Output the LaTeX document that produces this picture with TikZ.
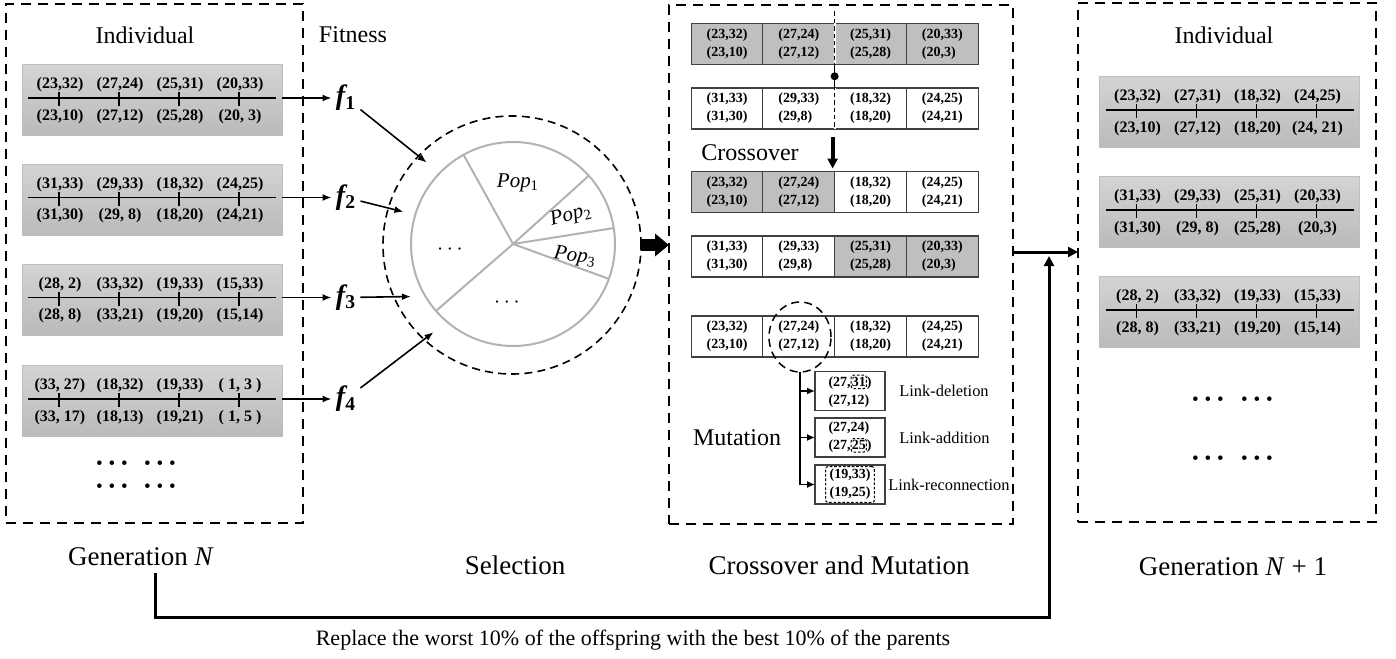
\documentclass[tikz,border=0pt]{standalone}
\usepackage{fontspec}
\setmainfont{Liberation Serif}
\usetikzlibrary{positioning,calc,arrows.meta,shapes.geometric}

\tikzset{
  panel/.style={draw, dash pattern=on 5pt off 3.5pt, line width=0.9pt, outer sep=0pt, inner sep=0pt},
  indbox/.style={draw=black!25, line width=0.4pt, top color=black!17, bottom color=black!27,
    minimum width=130pt, minimum height=35.5pt, outer sep=0pt},
  gene/.style={line width=0.8pt},
  gtxt/.style={font=\bfseries\fontsize{8}{9}\selectfont, inner sep=0pt},
  cell/.style={draw=black!75, line width=0.6pt, minimum width=35.875pt, minimum height=20.5pt,
    outer sep=0pt, inner sep=1pt, align=left, font=\bfseries\fontsize{7}{9}\selectfont},
  gcell/.style={cell, fill=black!25},
  mbox/.style={draw=black!75, line width=0.6pt, minimum width=35pt, minimum height=19.5pt,
    outer sep=0pt, inner sep=1pt, align=left, font=\bfseries\fontsize{7}{9}\selectfont},
  lbl/.style={font=\fontsize{13.5}{16}\selectfont},
  hd/.style={font=\fontsize{12}{14}\selectfont},
  fval/.style={font=\fontsize{14}{16}\selectfont\bfseries\itshape, inner sep=2pt},
  poplbl/.style={font=\fontsize{10.5}{12}\selectfont, inner sep=0pt},
  arr/.style={line width=0.8pt, -{Latex[length=4.5pt,width=3.5pt]}},
  fb/.style={line width=1.5pt},
  fbarr/.style={fb, -{Triangle[length=5pt,width=5pt]}},
  linklbl/.style={font=\fontsize{8.2}{10}\selectfont, inner sep=1pt},
  dots/.style={font=\fontsize{9.5}{10}\selectfont, inner sep=0pt},
  dframe/.style={draw=black, dash pattern=on 1.3pt off 0.9pt, rounded corners=1.2pt, line width=0.5pt}
}

\newcommand\dashbx[1]{\tikz[baseline=(dbx.base)]\node[dframe, minimum width=0pt, minimum height=0pt,
  outer sep=0pt, align=center, inner xsep=0.3pt, inner ysep=1pt] (dbx) {#1};}
\newcommand\tdots{\textbullet\hspace{2.9pt}\textbullet\hspace{2.9pt}\textbullet}
% one individual: name, centre x, centre y, gene pairs
\newcommand\indiv[4]{%
  \node[indbox] (#1) at (#2,#3) {};
  \draw[gene] ($(#1.west)+(6,-2)$) -- ($(#1.east)+(-6,-2)$);
  \foreach \gtop/\gbot [count=\i from 0] in {#4} {
    \draw[gene] ($(#1.west)+(37+60*\i,-8)$) -- ++(0,14);
    \node[gtxt] (#1t\i) at ($(#1.west)+(38+60*\i,-15)$) {\gtop};
    \node[gtxt] (#1b\i) at ($(#1.west)+(38+60*\i,16.5)$) {\gbot};
  }}

\begin{document}
\begin{tikzpicture}[x=0.5pt,y=-0.5pt]
  \useasboundingbox (0,0) rectangle (1396,658);

  % panels
  \node[panel, minimum width=148.5pt, minimum height=259.5pt] (genbox) at (154.5,263.5) {};
  \node[panel, minimum width=172pt, minimum height=259.5pt] (cmbox) at (841,264.5) {};
  \node[panel, minimum width=149pt, minimum height=259.5pt] (nextbox) at (1227,262.5) {};

  % generation N
  \node[hd] (indL) at (145,35) {Individual};
  \indiv{L1}{152}{100}{{(23,32)}/{(23,10)},{(27,24)}/{(27,12)},{(25,31)}/{(25,28)},{(20,33)}/{(20, 3)}}
  \indiv{L2}{152}{199.5}{{(31,33)}/{(31,30)},{(29,33)}/{(29, 8)},{(18,32)}/{(18,20)},{(24,25)}/{(24,21)}}
  \indiv{L3}{152}{299.5}{{(28, 2)}/{(28, 8)},{(33,32)}/{(33,21)},{(19,33)}/{(19,20)},{(15,33)}/{(15,14)}}
  \indiv{L4}{152}{401}{{(33, 27)}/{(33, 17)},{(18,32)}/{(18,13)},{(19,33)}/{(19,21)},{( 1, 3 )}/{( 1, 5 )}}
  \node[dots] (ld1) at (112,465) {\tdots};
  \node[dots] (ld2) at (160,465) {\tdots};
  \node[dots] (ld3) at (112,488) {\tdots};
  \node[dots] (ld4) at (160,488) {\tdots};
  \node[lbl] (genN) at (141,557) {Generation \textit{N}};

  % fitness
  \node[hd] (fithd) at (353,35) {Fitness};
  \node[fval] (f1) at (346,98) {f\textsubscript{\upshape 1}};
  \node[fval] (f2) at (346,197.5) {f\textsubscript{\upshape 2}};
  \node[fval] (f3) at (346,297.5) {f\textsubscript{\upshape 3}};
  \node[fval] (f4) at (346,399) {f\textsubscript{\upshape 4}};
  \foreach \k in {1,2,3,4}
    \draw[arr] (L\k.east |- f\k) -- (f\k);

  % selection
  \node[circle, draw, dash pattern=on 4pt off 2.6pt, line width=0.8pt, minimum size=129pt,
    inner sep=0pt, outer sep=0pt] (sel) at (512,245) {};
  \node[circle, draw=black!30, line width=1pt, minimum size=102pt,
    inner sep=0pt, outer sep=0pt] (pie) at (513,244) {};
  \foreach \a in {119,42,9,-20,221}
    \draw[black!30, line width=1pt] (pie.center) -- (pie.\a);
  \node[poplbl] (p1) at (518,183) {\itshape Pop\textsubscript{\upshape 1}};
  \node[poplbl, rotate=15] (p2) at (571,216) {\itshape Pop\textsubscript{\upshape 2}};
  \node[poplbl, rotate=-8] (p3) at (575,257) {\itshape Pop\textsubscript{\upshape 3}};
  \node[poplbl] (pd1) at (450,250) {$\cdots$};
  \node[poplbl] (pd2) at (507,303) {$\cdots$};
  \draw[arr] (f1) -- ($(sel.center)!0.92!(sel.136)$);
  \draw[arr] (f2) -- ($(sel.center)!0.88!(sel.163)$);
  \draw[arr] (f3) -- ($(sel.center)!0.88!(sel.207)$);
  \draw[arr] (f4) -- ($(sel.center)!0.91!(sel.228)$);
  \draw[line width=6pt, -{Triangle[length=7pt,width=11pt]}] (sel.east) -- (cmbox.west |- sel.east);
  \node[lbl] (selcap) at (515,565) {Selection};

  % crossover
  \node[gcell] (a1) at (727,44) {(23,32)\\(23,10)};
  \node[gcell, right=0pt of a1] (a2) {(27,24)\\(27,12)};
  \node[gcell, right=0pt of a2] (a3) {(25,31)\\(25,28)};
  \node[gcell, right=0pt of a3] (a4) {(20,33)\\(20,3)};
  \node[cell] (b1) at (727,108.5) {(31,33)\\(31,30)};
  \node[cell, right=0pt of b1] (b2) {(29,33)\\(29,8)};
  \node[cell, right=0pt of b2] (b3) {(18,32)\\(18,20)};
  \node[cell, right=0pt of b3] (b4) {(24,25)\\(24,21)};
  \node[gcell] (c1) at (727,192) {(23,32)\\(23,10)};
  \node[gcell, right=0pt of c1] (c2) {(27,24)\\(27,12)};
  \node[cell, right=0pt of c2] (c3) {(18,32)\\(18,20)};
  \node[cell, right=0pt of c3] (c4) {(24,25)\\(24,21)};
  \node[cell] (d1) at (727,256.5) {(31,33)\\(31,30)};
  \node[cell, right=0pt of d1] (d2) {(29,33)\\(29,8)};
  \node[gcell, right=0pt of d2] (d3) {(25,31)\\(25,28)};
  \node[gcell, right=0pt of d3] (d4) {(20,33)\\(20,3)};
  \draw[white, line width=1pt] (a2.north east) -- (a2.south east) (b2.north east) -- (b2.south east);
  \draw[line width=0.6pt, dash pattern=on 2.2pt off 1.5pt] ($(a2.north east)+(0,-12)$) -- (b2.south east);
  \draw[line width=0.8pt] (a2.south east) -- (b2.north east);
  \coordinate (cutdot) at ($(a2.south east)!0.5!(b2.north east)$);
  \fill (cutdot) circle (2pt);
  \draw[line width=2pt, -{Triangle[length=5pt,width=5pt]}] ($(b2.south east)+(-2,8)$) -- ($(c2.north east)+(-2,-3)$);
  \node[hd] (xolbl) at (750,153) {Crossover};

  % mutation
  \node[cell] (e1) at (727,336.5) {(23,32)\\(23,10)};
  \node[cell, right=0pt of e1] (e2) {(27,24)\\(27,12)};
  \node[cell, right=0pt of e2] (e3) {(18,32)\\(18,20)};
  \node[cell, right=0pt of e3] (e4) {(24,25)\\(24,21)};
  \node[ellipse, draw, dash pattern=on 4pt off 2.6pt, line width=0.75pt, minimum width=31pt,
    minimum height=35pt, inner sep=0pt, outer sep=0pt] (mutsel) at (800,337) {};
  \node[mbox] (m1) at (850,391) {(27,\dashbx{31})\\(27,12)};
  \node[mbox] (m2) at (850,437.5) {(27,24)\\(27,\dashbx{25})};
  \node[mbox] (m3) at (850,484.5) {};
  \node[dframe, inner xsep=2pt, inner ysep=1.3pt, align=left, font=\bfseries\fontsize{7}{9}\selectfont]
    (m3in) at (m3.center) {(19,33)\\(19,25)};
  \draw[line width=0.9pt, -{Latex[length=4pt,width=3.5pt]}] (mutsel.south) |- (m3.west);
  \draw[line width=0.9pt, -{Latex[length=4pt,width=3.5pt]}] (mutsel.south |- m1.west) -- (m1.west);
  \draw[line width=0.9pt, -{Latex[length=4pt,width=3.5pt]}] (mutsel.south |- m2.west) -- (m2.west);
  \node[linklbl, right=6pt of m1] (ldel) {Link-deletion};
  \node[linklbl, right=6pt of m2] (ladd) {Link-addition};
  \node[linklbl, right=0.5pt of m3] (lrec) {Link-reconnection};
  \node[hd] (mutlbl) at (737,438) {Mutation};
  \node[lbl] (cmcap) at (839,565) {Crossover and Mutation};

  % generation N+1
  \node[hd] (indR) at (1224,35) {Individual};
  \indiv{R1}{1229.5}{112}{{(23,32)}/{(23,10)},{(27,31)}/{(27,12)},{(18,32)}/{(18,20)},{(24,25)}/{(24, 21)}}
  \indiv{R2}{1229.5}{212}{{(31,33)}/{(31,30)},{(29,33)}/{(29, 8)},{(25,31)}/{(25,28)},{(20,33)}/{(20,3)}}
  \indiv{R3}{1229.5}{312}{{(28, 2)}/{(28, 8)},{(33,32)}/{(33,21)},{(19,33)}/{(19,20)},{(15,33)}/{(15,14)}}
  \node[dots] (rd1) at (1208,401) {\tdots};
  \node[dots] (rd2) at (1257,401) {\tdots};
  \node[dots] (rd3) at (1208,460) {\tdots};
  \node[dots] (rd4) at (1257,460) {\tdots};
  \node[lbl] (nextcap) at (1233,567) {Generation \textit{N} + 1};

  % offspring and elitist replacement
  \coordinate (join) at (1049,252);
  \coordinate (fbc) at (155,617);
  \draw[fbarr] (cmbox.east |- join) -- (nextbox.west |- join);
  \draw[fbarr] (genN.south -| fbc) -- (fbc) -| ([yshift=-2pt]join);
  \node[font=\fontsize{11}{13}\selectfont] (repl) at (633,640)
    {Replace the worst 10\% of the offspring with the best 10\% of the parents};
\end{tikzpicture}
\end{document}
